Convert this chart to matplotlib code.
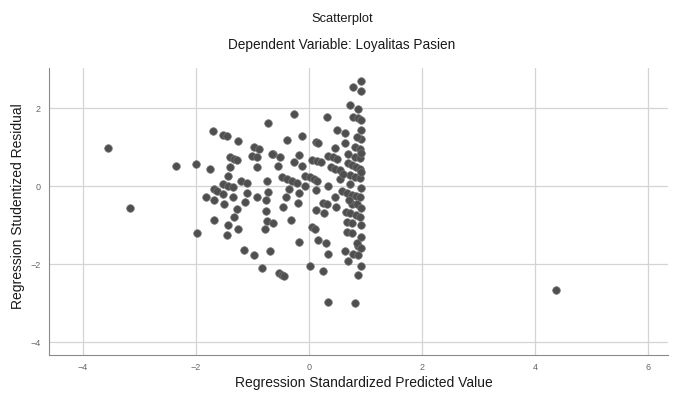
"""SPSS-style residual scatterplot: studentized residual vs standardized predicted value."""
import matplotlib
matplotlib.use("Agg")
import matplotlib.pyplot as plt

plt.rcParams["font.family"] = ["Liberation Sans", "DejaVu Sans"]

# values
pred = [-3.56, -3.16, -2.36, -2.00, -1.99, -1.75, -1.70, -1.52, -1.46, -1.26, -0.72, -0.97,
        -0.88, -1.01, -0.93, -1.40, -1.32, -1.28, -0.64, -1.40, -0.93, -0.55, -1.44, -1.20,
        -1.10, -1.53, -1.43, -1.35, -0.74, -1.68, -1.62, -1.52, -1.83, -1.69, -1.50, -1.35,
        -1.09, -1.13, -0.93, -0.73, -0.77, -1.27, -0.77, -1.32, -1.68, -0.75, -0.64, -1.44,
        -1.26, -0.78, -1.45, -1.16, -0.97, -0.70, -0.83,
        0.92, 0.77, 0.92, 0.73, 0.87, 0.78, 0.87, 0.92, 0.92, -0.27, 0.31, 0.49, 0.64, -0.13,
        -0.39, 0.12, 0.16, 0.63, 0.45, 0.81, 0.90, 0.68, 0.81, 0.90, 0.34, 0.43, 0.50, -0.65,
        -0.51, -0.18, 0.06, 0.14, 0.21, -0.27, -0.12, 0.68, 0.76, 0.83, 0.90, 0.39, 0.46, 0.54,
        0.73, 0.81, 0.90, -0.48, -0.39, -0.31, -0.22, -0.07, 0.01, 0.08, 0.14, 0.54, 0.34,
        0.73, -0.08, 0.92, 0.58, 0.67, 0.76, 0.83, 0.90, -0.35, -0.18, 0.12, -0.41, 0.46,
        0.24, 0.31, -0.20, 0.48, 0.76, -0.47, 0.12, 0.27, 0.65, 0.73, 0.83, 0.90, -0.32,
        0.67, 0.76, 0.05, 0.11, 0.67, 0.76, 0.92, 0.16, 0.30, -0.18, 0.87, 0.34, 0.63, 0.77,
        0.87, 0.68, 0.92, 0.02, 0.24, -0.54, -0.48, -0.45, 0.87, 0.34, 0.82, 4.37,
        0.92, 0.85, 0.92, 0.92, 0.85, 0.92, 0.92, 0.85, 0.92, 0.60, 0.70]
resid = [0.97, -0.56, 0.52, 0.57, -1.21, 0.44, 1.42, 1.31, 1.28, 1.16, 1.62, 0.99,
         0.94, 0.78, 0.74, 0.74, 0.69, 0.67, 0.81, 0.48, 0.48, 0.51, 0.26, 0.14,
         0.08, 0.05, 0.00, -0.03, 0.14, -0.08, -0.13, -0.21, -0.28, -0.36, -0.46, -0.29,
         -0.19, -0.40, -0.27, -0.15, -0.36, -0.60, -0.63, -0.80, -0.87, -0.89, -0.94, -0.99,
         -1.09, -1.11, -1.25, -1.65, -1.76, -1.66, -2.09,
         2.70, 2.53, 2.44, 2.07, 1.97, 1.78, 1.74, 1.69, 1.45, 1.85, 1.78, 1.44, 1.36, 1.28,
         1.18, 1.14, 1.11, 1.11, 0.97, 0.99, 0.95, 0.82, 0.75, 0.71, 0.78, 0.74, 0.69, 0.82,
         0.74, 0.80, 0.68, 0.65, 0.61, 0.62, 0.51, 0.58, 0.54, 0.50, 0.45, 0.48, 0.45, 0.41,
         0.28, 0.24, 0.20, 0.24, 0.18, 0.14, 0.08, 0.26, 0.22, 0.18, 0.14, 0.17, 0.00,
         0.05, 0.01, -0.06, -0.12, -0.17, -0.22, -0.26, -0.29, -0.08, -0.19, -0.10, -0.29, -0.29,
         -0.43, -0.46, -0.43, -0.53, -0.46, -0.53, -0.62, -0.68, -0.66, -0.68, -0.74, -0.79, -0.87,
         -0.91, -0.96, -1.06, -1.11, -1.17, -1.21, -1.30, -1.38, -1.45, -1.44, -1.53, -1.73, -1.66,
         -1.73, -1.77, -1.92, -2.05, -2.04, -2.19, -2.24, -2.28, -2.31, -2.28, -2.98, -3.01, -2.67,
         1.20, 1.25, 0.85, 0.35, -0.45, -0.55, -1.00, -1.45, -1.60, 0.30, -0.35]
xticks = [-4, -2, 0, 2, 4, 6]
yticks = [-4, -2, 0, 2]

fig = plt.figure(figsize=(6.73, 3.97), dpi=100)
ax = fig.add_axes([0.0728, 0.106, 0.92, 0.723])
ax.set_axisbelow(True)
ax.grid(True, color="#d4d4d4", lw=0.9)
ax.scatter(pred, resid, s=30, c="#4f4f4f", edgecolors="#777777", linewidths=0.5, zorder=3)

ax.set_xlim(-4.60, 6.35); ax.set_ylim(-4.33, 3.03)
ax.set_xticks(xticks); ax.set_yticks(yticks)
ax.tick_params(length=0, labelsize=6.5, labelcolor="#666666", pad=6)
for s in ("top", "right"): ax.spines[s].set_visible(False)
for s in ("left", "bottom"): ax.spines[s].set_color("#8a8a8a")

fig.text(0.508, 0.953, "Scatterplot", ha="center", va="center", fontsize=9.3, color="#1a1a1a")
fig.text(0.508, 0.887, "Dependent Variable: Loyalitas Pasien", ha="center", va="center",
         fontsize=9.8, color="#1a1a1a")
fig.text(0.54, 0.035, "Regression Standardized Predicted Value", ha="center", va="center",
         fontsize=10, color="#1a1a1a")
fig.text(0.027, 0.48, "Regression Studentized Residual", ha="center", va="center",
         rotation=90, fontsize=10, color="#1a1a1a")

fig.savefig("out.png", dpi=100)
